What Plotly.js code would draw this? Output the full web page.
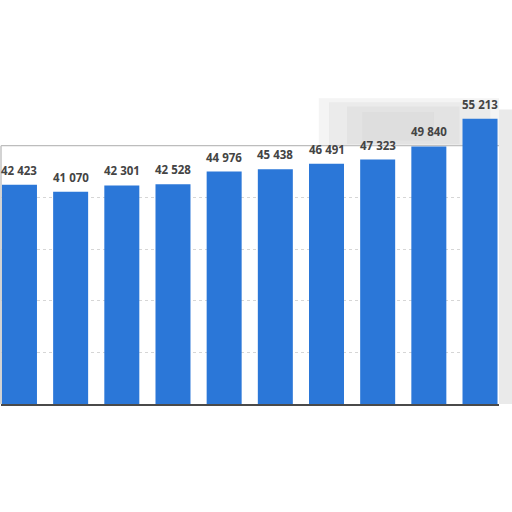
<!DOCTYPE html>
<html>
<head>
<meta charset="utf-8">
<script src="https://cdn.plot.ly/plotly-3.0.1.min.js"></script>
<style>
  html, body { margin: 0; padding: 0; background: #ffffff; }
  #grafico { width: 512px; height: 512px; }
</style>
</head>
<body>
<div id="grafico"></div>
<script>
// Datos (10 barras, sin etiquetas de eje visibles)
const categorias = ['1', '2', '3', '4', '5', '6', '7', '8', '9', '10'];
const valores = [42423, 41070, 42301, 42528, 44976, 45438, 46491, 47323, 49840, 55213];
const ticksY = [10000, 20000, 30000, 40000];

// Separador de miles con espacio: 42423 -> "42 423"
function formatear(v) {
    return String(v).replace(/\B(?=(\d{3})+(?!\d))/g, ' ');
}

const posiciones = categorias.map((c, i) => i);

const traza = {
    x: posiciones,
    y: valores,
    type: 'bar',
    marker: { color: '#2b77d8' },
    hoverinfo: 'skip'
};

// Etiquetas de valor encima de cada barra
const etiquetas = valores.map((v, i) => ({
    x: posiciones[i],
    y: v,
    xref: 'x',
    yref: 'y',
    text: formatear(v),
    showarrow: false,
    yanchor: 'bottom',
    yshift: 5,
    font: { family: 'Open Sans, sans-serif', size: 11.5, color: '#444444', weight: 'bold' }
}));

// Mancha gris difusa (capas superpuestas de baja opacidad)
const mancha = [
    [5.85, 9.40, 50000, 59200, 0.22],
    [6.05, 9.20, 50000, 58400, 0.25],
    [6.40, 8.60, 50300, 57600, 0.28],
    [6.70, 8.10, 51000, 56500, 0.25]
].map(([x0, x1, y0, y1, op]) => ({
    type: 'rect', xref: 'x', yref: 'y', x0, x1, y0, y1,
    fillcolor: '#cfcfcf', opacity: op, line: { width: 0 }, layer: 'below'
}));

const layout = {
    width: 512,
    height: 512,
    paper_bgcolor: '#ffffff',
    plot_bgcolor: '#ffffff',
    margin: { t: 94, r: 13, b: 108, l: 1 },
    bargap: 0.316,
    showlegend: false,
    annotations: etiquetas,
    xaxis: {
        range: [-0.361, 9.371],
        showticklabels: false,
        showgrid: false,
        zeroline: false,
        showline: true,
        linecolor: '#4a4a4a',
        linewidth: 1.5,
        ticks: ''
    },
    yaxis: {
        range: [0, 60000],
        tickvals: ticksY,
        showticklabels: false,
        showgrid: true,
        gridcolor: '#d6d6d6',
        griddash: 'dot',
        gridwidth: 1,
        zeroline: false,
        ticks: ''
    },
    shapes: mancha.concat([
        // línea superior gris (borde recortado del original)
        { type: 'line', xref: 'paper', yref: 'y', x0: 0, x1: 1, y0: 50000, y1: 50000,
          line: { color: '#bdbdbd', width: 1.2 }, layer: 'below' },
        // franja gris en el borde derecho
        { type: 'rect', xref: 'paper', yref: 'y', x0: 1, x1: 1.03, y0: 0, y1: 57000,
          fillcolor: '#dcdcdc', opacity: 0.6, line: { width: 0 }, layer: 'below' },
        // franja gris en el borde izquierdo
        { type: 'line', xref: 'paper', yref: 'y', x0: 0, x1: 0, y0: 0, y1: 50000,
          line: { color: '#c4c4c4', width: 1.5 } }
    ])
};

Plotly.newPlot('grafico', [traza], layout, { displayModeBar: false, staticPlot: true });
</script>
</body>
</html>
